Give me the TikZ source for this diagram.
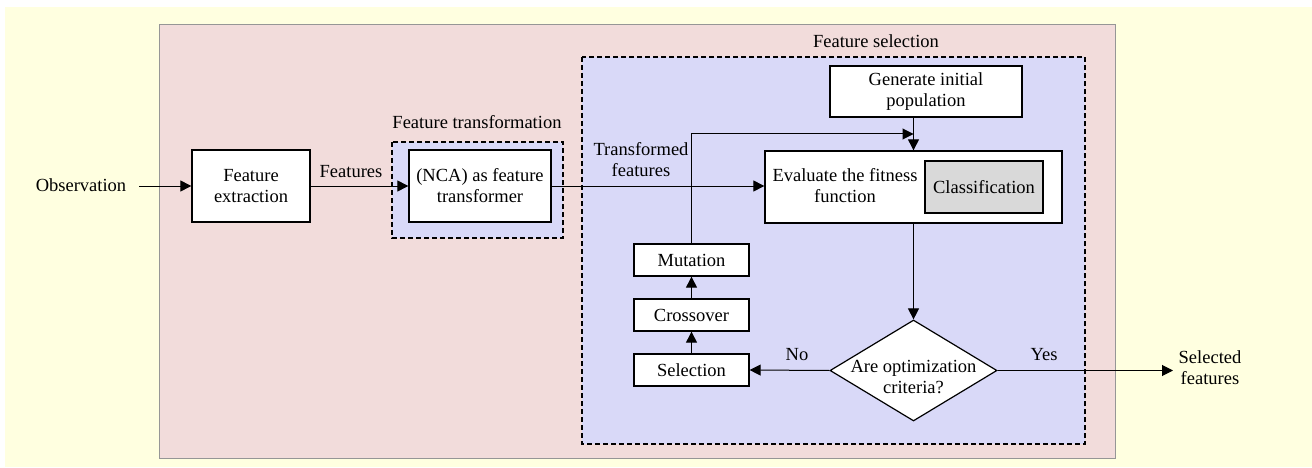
\documentclass[tikz,border=0pt]{standalone}
\usepackage{fontspec}
\setmainfont{Liberation Serif}
\usetikzlibrary{arrows.meta,shapes.geometric}
\definecolor{bgyellow}{RGB}{255,255,224}
\definecolor{pinkbg}{RGB}{242,220,219}
\definecolor{bluebg}{RGB}{217,217,248}
\definecolor{graybox}{RGB}{217,217,217}
\definecolor{bordergray}{RGB}{150,150,150}
\begin{document}
\begin{tikzpicture}[x=1pt,y=-1pt,
  font=\fontsize{18.5}{21}\selectfont,
  box/.style={draw=black,fill=white,line width=1.3pt,inner sep=0pt,align=center},
  conn/.style={line width=1pt,-{Triangle[length=11pt,width=11pt]}},
  region/.style={draw=black,fill=bluebg,line width=1.4pt,dash pattern=on 5pt off 3pt},
  lbl/.style={inner sep=0pt,align=center}]
\useasboundingbox (0,0) rectangle (1312,468);
\fill[white] (0,0) rectangle (1312,468);
\fill[bgyellow] (5,7) rectangle (1312,467);
\filldraw[fill=pinkbg,draw=bordergray,line width=1pt] (159,25) rectangle (1115,458);
\draw[region] (392,142) rectangle (563,238);
\draw[region] (582,57) rectangle (1085,444);

\node[box,minimum width=118,minimum height=72] (fe) at (251,186) {Feature\\extraction};
\node[box,minimum width=142,minimum height=72] (nca) at (480,186) {(NCA) as feature\\transformer};
\node[box,minimum width=192,minimum height=51] (gen) at (926,91.5) {Generate initial\\population};
\node[box,minimum width=297,minimum height=72] (ev) at (913.5,187) {};
\node[box,fill=graybox,minimum width=118,minimum height=52] (cls) at (984,187) {Classification};
\node[lbl] (evt) at (845,186) {Evaluate the fitness\\function};
\node[box,minimum width=115,minimum height=32] (mut) at (691.5,260) {Mutation};
\node[box,minimum width=115,minimum height=32] (cro) at (691.5,315) {Crossover};
\node[box,minimum width=115,minimum height=32] (sel) at (691.5,370) {Selection};
\node[diamond,draw=black,fill=white,line width=1.2pt,minimum width=167,minimum height=101,inner sep=0pt] (dia) at (913.5,370.5) {};
\node[lbl] (diat) at (913.5,377) {Are optimization\\criteria?};
\node[lbl] (obs) at (81,185) {Observation};
\coordinate (obsend) at (139,186);
\node[lbl] (out) at (1210,368) {Selected\\features};
\coordinate (outend) at (1173,370.5);
\coordinate (join) at (913.5,134);

\node[lbl] (lfeat) at (351,172) {Features};
\node[lbl] (ltf) at (641,160) {Transformed\\features};
\node[lbl] (lno) at (797,355) {No};
\node[lbl] (lyes) at (1044,355) {Yes};
\node[lbl] (ltrans) at (477,122) {Feature transformation};
\node[lbl] (lsel) at (876,41) {Feature selection};

\draw[conn] (obsend) -- (fe.west);
\draw[conn] (fe.east) -- (nca.west);
\draw[conn] (nca.east) -- (nca.east -| ev.west);
\draw[conn] (gen.south -| ev.north) -- (ev.north);
\draw[conn] (mut.north) |- (join);
\draw[conn] (ev.south) -- (dia.north);
\draw[conn] (sel.north) -- (cro.south);
\draw[conn] (cro.north) -- (mut.south);
\draw[conn] (dia.west) -- (sel.east);
\draw[conn] (dia.east) -- (outend);
\end{tikzpicture}
\end{document}
